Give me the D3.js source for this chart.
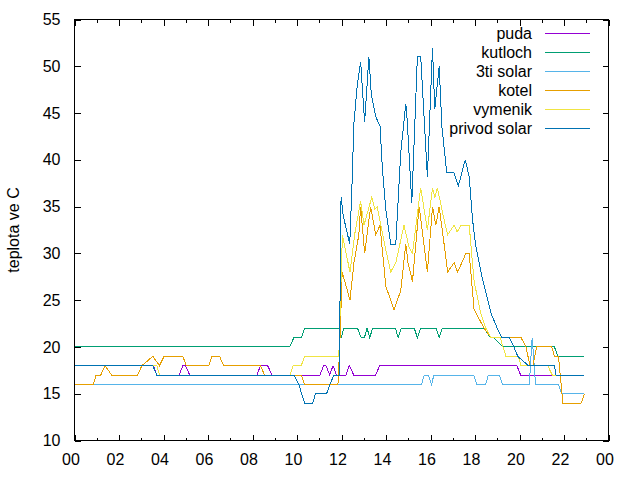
<!DOCTYPE html>
<html>
<head>
<meta charset="utf-8">
<script src="https://cdn.jsdelivr.net/npm/d3@7"></script>
<style>
    body { margin: 0; background: #fff; }
    text { font-family: "Liberation Sans", Arial, sans-serif; }
</style>
</head>
<body>
<div id="app"></div>
<script>
// [hour, temperature] pairs
const puda = [[0,18],[3.55,18],[3.7,17],[4.7,17],[4.87,18],[4.98,18],[5.18,17],[8.2,17],[8.36,18],[8.68,18],[8.88,17],
    [11.03,17],[11.2,18],[11.3,18],[11.47,17],[11.62,18],[11.77,17],[12.2,17],[12.35,18],[12.55,17],[13.53,17],
    [13.72,18],[19.88,18],[20.05,17],[22.92,17]];

const kutloch = [[0,20],[9.67,20],[9.86,21],[10.2,21],[10.34,22],[11.9,22],[12.0,21],[12.1,22],[12.72,22],[12.88,21],
    [13.03,21],[13.15,22],[13.27,21],[13.4,22],[14.42,22],[14.55,21],[14.68,22],[15.27,22],[15.41,21],[15.55,22],
    [16.25,22],[16.39,21],[16.53,22],[18.4,22],[18.7,21],[18.85,21],[19.25,20],[21.57,20],[21.72,19],[22.92,19]];

const tretiSolar = [[0,16],[15.6,16],[15.72,17],[15.9,17],[16.05,16],[16.15,17],[17.94,17],[18.08,16],[18.48,16],
    [18.6,17],[19.1,17],[19.24,16],[20.44,16],[20.57,21],[20.72,16],[21.75,16],[21.9,15],[22.92,15]];

const kotel = [[0,16],[0.85,16],[0.97,17],[1.18,17],[1.37,18],[1.67,17],[2.83,17],[3.03,18],[3.52,19],[3.82,18],
    [4.03,19],[4.87,19],[5.02,18],[6.03,18],[6.18,19],[6.52,19],[6.7,18],[8.36,18],[8.54,17],[10.19,17],[10.34,16],
    [11.84,16],[11.92,20],[12.03,28],[12.15,27],[12.38,25],[12.56,29],[12.78,32],[12.86,35],[13.04,30],[13.31,35],
    [13.54,32],[13.73,33],[13.99,26.5],[14.36,24],[14.66,26],[14.89,31],[14.99,29],[15.19,27],[15.49,35],[15.86,28],
    [16.09,35],[16.24,33],[16.39,35],[16.61,31],[16.77,28],[17.06,29],[17.22,28],[17.59,30],[17.74,30],[17.96,24],
    [18.41,22],[18.72,21],[20.07,21],[20.29,20],[20.47,18],[20.6,18],[20.77,20],[21.45,20],[21.57,19],[21.75,19],
    [21.95,14],[22.77,14],[22.92,15]];

const vymenik = [[0,18],[3.7,18],[3.82,17],[9.68,17],[9.83,18],[10.19,18],[10.34,19],[11.88,19],[12.04,32],[12.38,28],
    [12.59,32],[12.86,35.6],[13.01,33],[13.36,36],[13.5,34.7],[13.6,35],[13.99,30.4],[14.21,28],[14.44,29],[14.81,33],
    [15.04,30.6],[15.19,30],[15.56,37],[15.86,32.5],[16.09,37],[16.2,36],[16.31,37],[16.61,33.6],[16.77,32],[17.06,33],
    [17.2,32.3],[17.37,33],[17.74,33],[17.96,27],[18.26,23.6],[18.49,22],[18.72,21],[19.13,21],[19.39,19],[19.95,19],
    [20.07,18],[21.27,18],[21.47,17],[22.92,17]];

const privodSolar = [[0,18],[3.52,18],[3.7,17],[9.86,17],[10.08,16],[10.34,14],[10.71,14],[10.83,15],[11.33,15],
    [11.48,16],[11.66,17],[11.9,17],[11.98,36],[12.08,34],[12.37,31],[12.46,36.5],[12.56,44],[12.71,48],[12.86,50.5],
    [13.04,44],[13.23,51],[13.34,47],[13.54,44.6],[13.73,43.6],[13.84,39],[13.99,34.7],[14.21,31],[14.44,31],
    [14.66,40.7],[14.89,46],[14.95,44.3],[15.16,35.4],[15.41,51],[15.56,51],[15.86,38.2],[16.09,52],[16.19,45.4],
    [16.39,50],[16.51,43.6],[16.73,38.6],[17.06,38.6],[17.25,37.2],[17.56,40],[17.74,38.2],[17.89,33.6],[18.04,30.7],
    [18.34,27.2],[18.72,23.6],[19.0,22],[19.2,21],[19.54,21],[19.75,20],[19.92,19],[20.4,18],[21.57,18],[21.64,17],
    [22.92,17]];

const seriesNames = ["puda", "kutloch", "3ti solar", "kotel", "vymenik", "privod solar"];
const seriesData = [puda, kutloch, tretiSolar, kotel, vymenik, privodSolar];
const seriesColors = ["#9400d3", "#009e73", "#56b4e9", "#e69f00", "#f0e442", "#0072b2"];

const yTicks = [10, 15, 20, 25, 30, 35, 40, 45, 50, 55];
const xTicks = [0, 2, 4, 6, 8, 10, 12, 14, 16, 18, 20, 22, 24];
const xTickLabels = ["00", "02", "04", "06", "08", "10", "12", "14", "16", "18", "20", "22", "00"];
const xMinorTicks = [1, 3, 5, 7, 9, 11, 13, 15, 17, 19, 21, 23];

let width = 640;
let height = 480;
let plotLeft = 74.5, plotRight = 608.5, plotTop = 19.5, plotBottom = 440.5;

let svg = d3.select("#app")
    .append("svg")
        .attr("width", width)
        .attr("height", height);

let x = d3.scaleLinear()
    .domain([0, 24])
    .range([plotLeft, plotRight]);

let y = d3.scaleLinear()
    .domain([10, 55])
    .range([plotBottom, plotTop]);

function tidy(g) {
    g.select(".domain").remove();
    g.selectAll("line").attr("stroke", "#000").attr("shape-rendering", "crispEdges");
    g.selectAll("text").attr("fill", "#000").attr("font-size", 16);
}

// bottom axis, ticks pointing inward
svg.append("g")
    .attr("transform", "translate(0," + plotBottom + ")")
    .call(d3.axisBottom(x).tickValues(xTicks).tickSizeInner(-6).tickPadding(13)
        .tickFormat((d, i) => xTickLabels[i]))
    .call(tidy)
    .selectAll("text").attr("dx", -4);

svg.append("g")
    .attr("transform", "translate(0," + plotBottom + ")")
    .call(d3.axisBottom(x).tickValues(xMinorTicks).tickSizeInner(-3).tickFormat(""))
    .call(tidy);

// top mirror
svg.append("g")
    .attr("transform", "translate(0," + plotTop + ")")
    .call(d3.axisTop(x).tickValues(xTicks).tickSizeInner(-6).tickFormat(""))
    .call(tidy);

svg.append("g")
    .attr("transform", "translate(0," + plotTop + ")")
    .call(d3.axisTop(x).tickValues(xMinorTicks).tickSizeInner(-3).tickFormat(""))
    .call(tidy);

svg.append("g")
    .attr("transform", "translate(" + plotLeft + ",0)")
    .call(d3.axisLeft(y).tickValues(yTicks).tickSizeInner(-6).tickPadding(14))
    .call(tidy);

svg.append("g")
    .attr("transform", "translate(" + plotRight + ",0)")
    .call(d3.axisRight(y).tickValues(yTicks).tickSizeInner(-6).tickFormat(""))
    .call(tidy);

svg.append("text")
    .attr("transform", "translate(19," + ((plotTop + plotBottom) / 2) + ") rotate(-90)")
    .attr("text-anchor", "middle")
    .attr("font-size", 16)
    .text("teplota ve C");

let line = d3.line()
    .x(d => x(d[0]))
    .y(d => y(d[1]));

svg.append("g").selectAll("path")
    .data(seriesData)
    .enter().append("path")
        .attr("d", d => line(d))
        .attr("fill", "none")
        .attr("stroke", (d, i) => seriesColors[i])
        .attr("stroke-width", 1)
        .attr("shape-rendering", "crispEdges");

// key
let key = svg.append("g").selectAll("g")
    .data(seriesNames)
    .enter().append("g")
        .attr("transform", (d, i) => "translate(0," + (33.5 + i * 19) + ")");

key.append("text")
    .attr("x", 532)
    .attr("y", 5.5)
    .attr("text-anchor", "end")
    .attr("font-size", 16)
    .text(d => d);

key.append("line")
    .attr("x1", 545)
    .attr("x2", 590)
    .attr("stroke", (d, i) => seriesColors[i])
    .attr("shape-rendering", "crispEdges");

svg.append("rect")
    .attr("x", plotLeft)
    .attr("y", plotTop)
    .attr("width", plotRight - plotLeft)
    .attr("height", plotBottom - plotTop)
    .attr("fill", "none")
    .attr("stroke", "#000")
    .attr("shape-rendering", "crispEdges");
</script>
</body>
</html>
